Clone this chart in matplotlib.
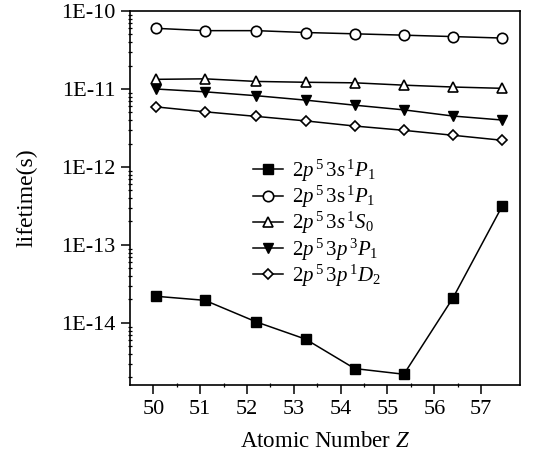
import matplotlib
matplotlib.use("Agg")
import matplotlib.pyplot as plt
from matplotlib.ticker import LogLocator, FixedLocator, NullFormatter

plt.rcParams['font.family'] = ['Liberation Serif', 'DejaVu Serif']
plt.rcParams['mathtext.fontset'] = 'custom'
plt.rcParams['mathtext.rm'] = 'Liberation Serif'
plt.rcParams['mathtext.it'] = 'Liberation Serif:italic'
plt.rcParams['mathtext.bf'] = 'Liberation Serif:bold'

# data
Z = [50.05, 51.1, 52.2, 53.25, 54.3, 55.35, 56.4, 57.45]
s1P1_a = [2.2e-14, 1.95e-14, 1.03e-14, 6.2e-15, 2.6e-15, 2.2e-15, 2.1e-14, 3.15e-13]
s1P1_b = [6.0e-11, 5.6e-11, 5.6e-11, 5.3e-11, 5.1e-11, 4.9e-11, 4.7e-11, 4.5e-11]
s1S0 = [1.33e-11, 1.35e-11, 1.25e-11, 1.22e-11, 1.2e-11, 1.12e-11, 1.06e-11, 1.02e-11]
p3P1 = [1.0e-11, 9.2e-12, 8.2e-12, 7.2e-12, 6.2e-12, 5.4e-12, 4.5e-12, 4.0e-12]
p1D2 = [5.9e-12, 5.1e-12, 4.45e-12, 3.9e-12, 3.35e-12, 2.95e-12, 2.55e-12, 2.2e-12]

labels = [r'$2\mathit{p}^{\,5}\,3\mathit{s}^{\,1}\mathit{P}_{1}$',
          r'$2\mathit{p}^{\,5}\,3\mathrm{s}^{\,1}\mathit{P}_{1}$',
          r'$2\mathit{p}^{\,5}\,3\mathit{s}^{\,1}\mathit{S}_{0}$',
          r'$2\mathit{p}^{\,5}\,3\mathit{p}^{\,3}\mathit{P}_{1}$',
          r'$2\mathit{p}^{\,5}\,3\mathit{p}^{\,1}\mathit{D}_{2}$']
xticks = [50, 51, 52, 53, 54, 55, 56, 57]
ytick_vals = [1e-14, 1e-13, 1e-12, 1e-11, 1e-10]
ytick_labels = ['1E-14', '1E-13', '1E-12', '1E-11', '1E-10']

fig = plt.figure(figsize=(5.33, 4.55), dpi=100)
ax = fig.add_axes([0.2439, 0.1538, 0.7317, 0.822])

common = dict(color='black', lw=1.1)
ax.plot(Z, s1P1_a, marker='s', ms=7, mfc='black', mec='black', label=labels[0], **common)
ax.plot(Z, s1P1_b, marker='o', ms=7.5, mfc='white', mec='black', mew=1.2, label=labels[1], **common)
ax.plot(Z, s1S0, marker='^', ms=6.5, mfc='white', mec='black', mew=1.2, label=labels[2], **common)
ax.plot(Z, p3P1, marker='v', ms=7.5, mfc='black', mec='black', label=labels[3], **common)
ax.plot(Z, p1D2, marker='D', ms=5.5, mfc='white', mec='black', mew=1.2, label=labels[4], **common)

ax.set_yscale('log')
ax.set_ylim(1.6e-15, 1e-10)
ax.set_xlim(49.5, 57.83)

ax.xaxis.set_major_locator(FixedLocator(xticks))
ax.xaxis.set_minor_locator(FixedLocator([x + 0.5 for x in xticks[:-1]]))
ax.set_xticklabels([str(x) for x in xticks])
ax.yaxis.set_major_locator(FixedLocator(ytick_vals))
ax.set_yticklabels(ytick_labels)
ax.yaxis.set_minor_locator(LogLocator(base=10, subs=[2, 3, 4, 5, 6, 7, 8, 9]))
ax.yaxis.set_minor_formatter(NullFormatter())

ax.tick_params(which='major', direction='out', length=6.5, width=1.1, labelsize=16, pad=4)
ax.tick_params(which='minor', direction='inout', length=3, width=0.9)
ax.tick_params(top=False, right=False)
for sp in ax.spines.values():
    sp.set_linewidth(1.2)

ax.set_ylabel('lifetime(s)', fontsize=17, labelpad=17)
ax.set_xlabel(r'Atomic Number $\mathit{Z}$', fontsize=16.5, labelpad=9)

leg = ax.legend(loc='upper left', bbox_to_anchor=(0.295, 0.63), frameon=False,
                fontsize=15, handlelength=1.4, handletextpad=0.45,
                labelspacing=0.0, borderaxespad=0)

fig.savefig('out.png', dpi=100)
